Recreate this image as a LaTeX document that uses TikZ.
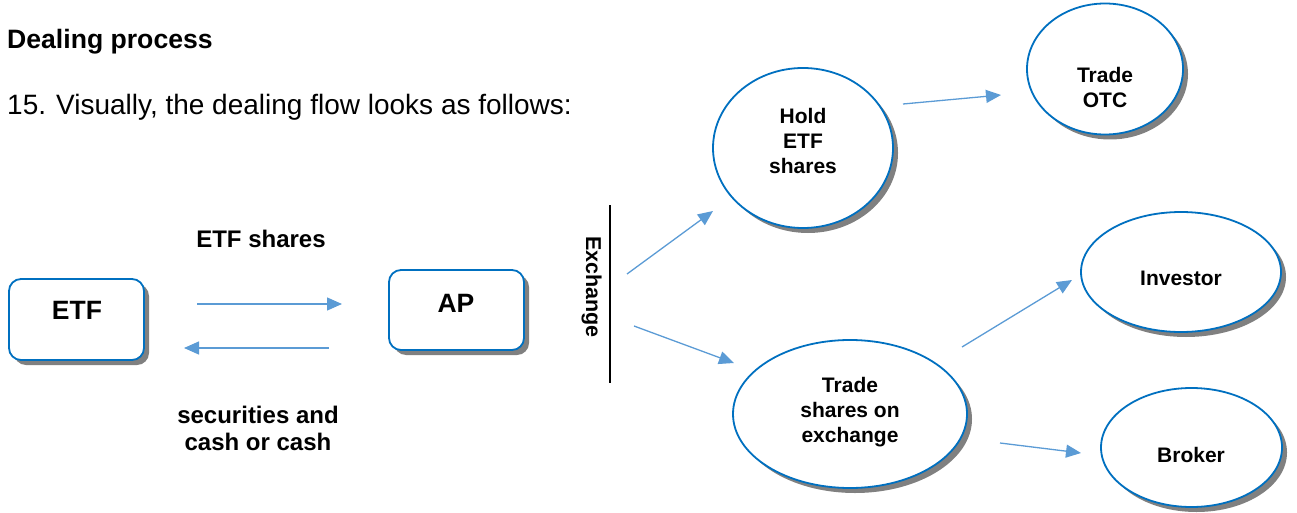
\documentclass[tikz,border=0pt]{standalone}
\usepackage{fontspec}
\setmainfont{Liberation Sans}
\usetikzlibrary{arrows.meta,shapes.geometric,shadows}
\definecolor{borderblue}{HTML}{0070C0}
\definecolor{arrowblue}{HTML}{5B9BD5}
\definecolor{shadowgray}{HTML}{808080}
\tikzset{
  shad/.style={drop shadow={shadow xshift=5pt,shadow yshift=-5pt,fill=shadowgray,opacity=1}},
  boxshape/.style={draw=borderblue,line width=1.8pt,fill=white,rounded corners=12pt,inner sep=0pt,shad},
  ellshape/.style={ellipse,draw=borderblue,line width=1.8pt,fill=white,inner sep=0pt,shad},
  boxtext/.style={font=\bfseries\fontsize{26.5}{30}\selectfont,anchor=base,inner sep=0pt},
  elltext/.style={font=\bfseries\fontsize{21}{25}\selectfont,align=center,inner sep=0pt},
  lbltext/.style={font=\bfseries\fontsize{24}{27}\selectfont,align=center,inner sep=0pt},
  arr/.style={draw=arrowblue,line width=1.3pt,-{Triangle[length=15pt,width=13pt]}},
}
\begin{document}
\begin{tikzpicture}[x=1pt,y=-1pt]
\useasboundingbox (0,0) rectangle (1297,513);
% heading
\node[font=\bfseries\fontsize{26.6}{30}\selectfont,anchor=base west,inner sep=0pt] (head) at (7,49) {Dealing process};
\node[font=\fontsize{28}{32}\selectfont,anchor=base west,inner sep=0pt] (intro) at (7,115) {15.\hspace{10pt}Visually, the dealing flow looks as follows:};
% boxes
\node[boxshape,minimum width=135pt,minimum height=81pt] (etf) at (76.5,319.5) {};
\node[boxtext] (etft) at (77,319) {ETF};
\node[boxshape,minimum width=135pt,minimum height=80pt] (ap) at (456.5,310) {};
\node[boxtext] (apt) at (456,312) {AP};
% labels
\node[lbltext,anchor=base] (lshares) at (261,247) {ETF shares};
\node[lbltext,anchor=base] (lsec) at (258,450) {securities and\\cash or cash};
% exchange
\coordinate (exT) at (610,205);
\coordinate (exB) at (610,383);
\draw[black,line width=1.2pt] (exT) -- (exB);
\node[font=\bfseries\fontsize{21.5}{25}\selectfont,rotate=-90,anchor=base,inner sep=0pt] (exch) at (586,287) {Exchange};
% ellipses
\node[ellshape,minimum width=180pt,minimum height=160pt] (hold) at (803,148) {};
\node[elltext] (holdt) at (803,140.5) {Hold\\ETF\\shares};
\node[ellshape,minimum width=156pt,minimum height=131pt] (otc) at (1105,69) {};
\node[elltext] (otct) at (1105,87.5) {Trade\\OTC};
\node[ellshape,minimum width=234pt,minimum height=148pt] (trade) at (850,414) {};
\node[elltext] (tradet) at (850,412) {Trade\\shares on\\exchange};
\node[ellshape,minimum width=200pt,minimum height=120pt] (inv) at (1181,272) {};
\node[elltext,anchor=base] (invt) at (1181,285) {Investor};
\node[ellshape,minimum width=181pt,minimum height=119pt] (brk) at (1191.5,447.5) {};
\node[elltext,anchor=base] (brkt) at (1191,462) {Broker};
% arrow end points
\coordinate (a1s) at (197,304); \coordinate (a1e) at (342,304);
\coordinate (a2s) at (329,348); \coordinate (a2e) at (184,348);
\coordinate (a3s) at (627,274); \coordinate (a3e) at (713,211);
\coordinate (a4s) at (634,326); \coordinate (a4e) at (734,363);
\coordinate (a5s) at (903,104); \coordinate (a5e) at (1001,95);
\coordinate (a6s) at (962,347); \coordinate (a6e) at (1072,280);
\coordinate (a7s) at (1000,443); \coordinate (a7e) at (1081,453);
\draw[arr] (a1s) -- (a1e);
\draw[arr] (a2s) -- (a2e);
\draw[arr] (a3s) -- (a3e);
\draw[arr] (a4s) -- (a4e);
\draw[arr] (a5s) -- (a5e);
\draw[arr] (a6s) -- (a6e);
\draw[arr] (a7s) -- (a7e);
\end{tikzpicture}
\end{document}
